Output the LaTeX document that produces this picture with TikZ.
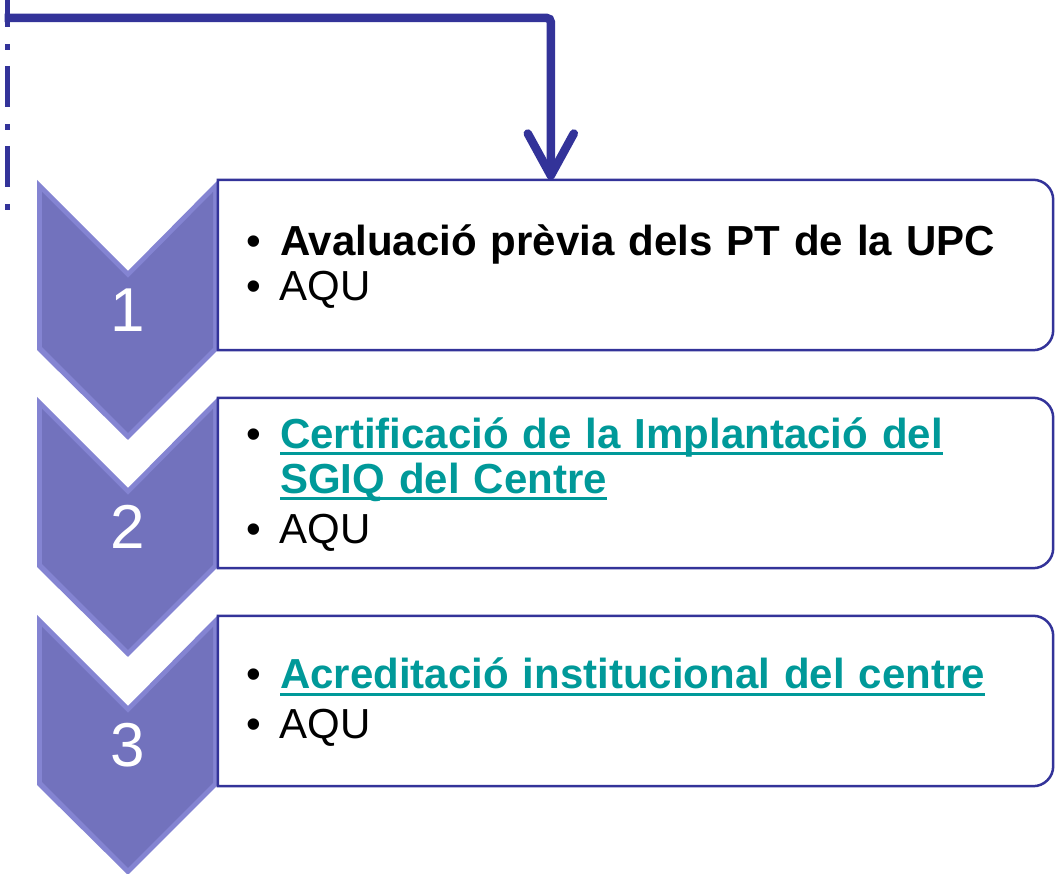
\documentclass[tikz,border=0pt]{standalone}
\usepackage{fontspec}
\setmainfont{Liberation Sans}
\usetikzlibrary{arrows.meta}

\definecolor{flowblue}{HTML}{333399}
\definecolor{linkteal}{HTML}{009999}
\definecolor{chevronface}{HTML}{7272BD}
\definecolor{chevronedge}{HTML}{8484D2}

\newlength{\linkwd}
\newcommand{\linktext}[1]{%
    \settowidth{\linkwd}{\textbf{#1}}%
    \textcolor{linkteal}{\textbf{#1}\llap{\rule[-7pt]{\linkwd}{3pt}}}}
\newcommand{\stagelist}[1]{%
    \raisebox{-4pt}[\height][\depth]{\begin{tabular}{@{}p{34pt}@{}l@{}}#1\end{tabular}}}

\begin{document}
\begin{tikzpicture}[
            x=1pt, y=1pt,
            stage box/.style={
                minimum width=835pt,
                minimum height=170pt,
                text width=779pt,
                inner xsep=28pt,
                inner ysep=0pt,
                align=left,
                font=\fontsize{42}{45}\selectfont,
                append after command={
                    \pgfextra{
                        \draw[flowblue, line width=2.5pt] (\tikzlastnode.north west)
                            -- ([xshift=-20pt]\tikzlastnode.north east)
                            arc[start angle=90, end angle=0, radius=20pt]
                            -- ([yshift=20pt]\tikzlastnode.south east)
                            arc[start angle=0, end angle=-90, radius=20pt]
                            -- (\tikzlastnode.south west) -- cycle;
                    }
                }
            },
            stage number/.style={text=white, font=\fontsize{62}{62}\selectfont},
            loop edge/.style={
                draw=flowblue,
                line width=5pt,
                dash pattern=on 41pt off 17pt on 6pt off 16pt,
                dash phase=14pt
            },
            flow arrow/.style={
                draw=flowblue,
                line width=8.5pt,
                rounded corners=4pt,
                -{Straight Barb[length=42pt, width=46pt, round]}
            }
        ]
        \clip (0,0) rectangle (1055,874);
        \foreach \k/\T in {1/694, 2/477, 3/259} {
            \fill[chevronedge] (37,\T) -- (128,{\T-91}) -- (218,\T) -- (218,{\T-170})
                -- (128,{\T-260}) -- (37,{\T-170}) -- cycle;
            \fill[chevronface] (42,{\T-12}) -- (128,{\T-98}) -- (213,{\T-12}) -- (213,{\T-168})
                -- (128,{\T-253}) -- (42,{\T-167}) -- cycle;
            \node[stage number] (num\k) at (128,{\T-130}) {\k};
        }
        \node[stage box] (box1) at (635.5,609) {%
            \stagelist{
                • & \textbf{Avaluació prèvia dels PT de la UPC}\\
                • & AQU}};
        \node[stage box] (box2) at (635.5,391) {%
            \stagelist{
                • & \linktext{Certificació de la Implantació del}\\
                  & \linktext{SGIQ del Centre}\\[5pt]
                • & AQU}};
        \node[stage box] (box3) at (635.5,173) {%
            \stagelist{
                • & \linktext{Acreditació institucional del centre}\\[5pt]
                • & AQU}};
        \coordinate (loop top) at (7,874);
        \coordinate (loop end) at (7,660);
        \coordinate (loop bend) at (4.5,856);
        \draw[loop edge] (loop top) -- (loop end);
        \draw[flow arrow] (loop bend) -| ([xshift=333pt]box1.north west);
        \end{tikzpicture}
\end{document}
